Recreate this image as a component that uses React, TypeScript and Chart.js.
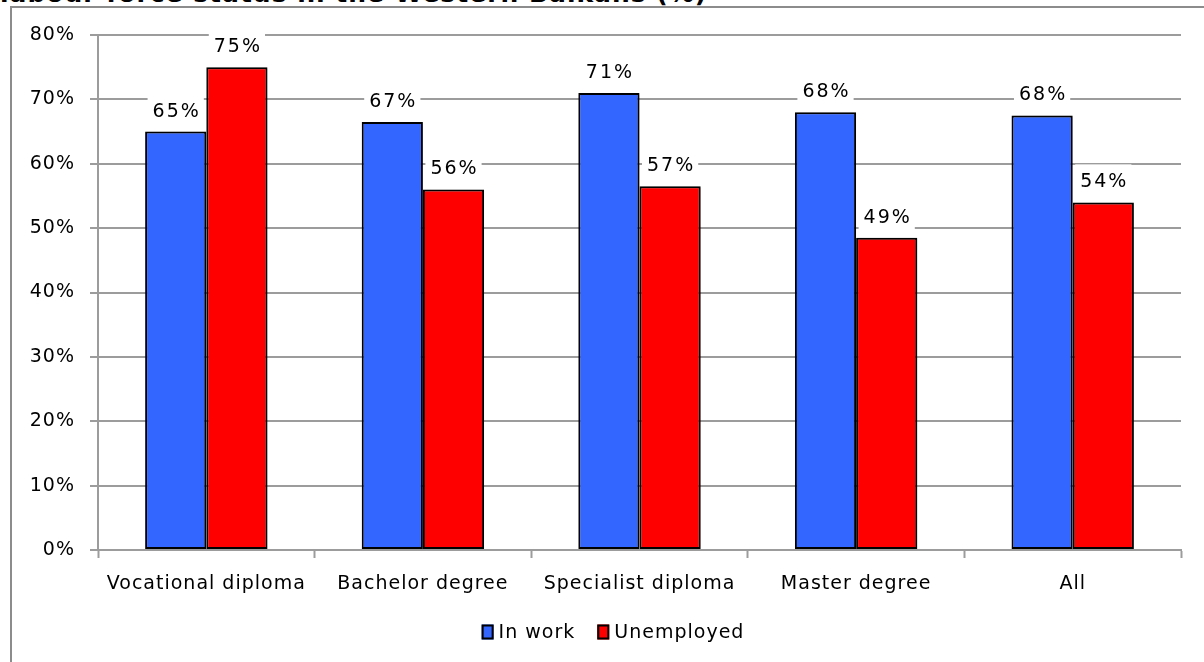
import React, { useEffect, useRef } from "react";
import { Chart, registerables } from "chart.js";

Chart.register(...registerables);

const titleText = "labour force status in the Western Balkans (%)";
const categories = ["Vocational diploma", "Bachelor degree", "Specialist diploma", "Master degree", "All"];
const seriesNames = ["In work", "Unemployed"];
const seriesColors = ["#3366FF", "#FF0000"];
const inWork = [65, 66.5, 71, 68, 67.5];
const unemployed = [75, 56, 56.5, 48.5, 54];
const yMin = 0;
const yMax = 80;
const yStep = 10;

const FONT = "'DejaVu Sans', Verdana, sans-serif";

const barExtrasPlugin = {
  id: "barExtras",
  beforeDraw(chart: any) {
    (chart.ctx as any).letterSpacing = "1px";
  },
  beforeDatasetsDraw(chart: any) {
    const ctx = chart.ctx;
    ctx.save();
    ctx.shadowColor = "rgba(0,0,0,0.28)";
    ctx.shadowBlur = 3;
    ctx.shadowOffsetX = 2;
    ctx.shadowOffsetY = 1;
  },
  afterDatasetsDraw(chart: any) {
    const ctx = chart.ctx;
    ctx.restore();
    ctx.save();
    ctx.font = `19px ${FONT}`;
    (ctx as any).letterSpacing = "2px";
    ctx.textAlign = "center";
    ctx.textBaseline = "middle";
    chart.data.datasets.forEach((ds: any, di: number) => {
      const meta = chart.getDatasetMeta(di);
      meta.data.forEach((bar: any, i: number) => {
        const v = ds.data[i] as number;
        const text = Math.round(v) + "%";
        const w = ctx.measureText(text).width;
        const cx = bar.x;
        const cy = bar.y - 20;
        ctx.fillStyle = "#ffffff";
        ctx.fillRect(cx - w / 2 - 4, cy - 18, w + 8, 36);
        ctx.fillStyle = "#000000";
        ctx.fillText(text, cx + 1, cy);
      });
    });
    ctx.restore();
  },
  afterDraw(chart: any) {
    const ctx = chart.ctx;
    ctx.save();
    ctx.font = `19px ${FONT}`;
    (ctx as any).letterSpacing = "1px";
    ctx.textBaseline = "middle";
    ctx.textAlign = "left";
    const boxW = 12;
    const boxH = 15;
    const gapText = 5;
    const gapItem = 22;
    const items = chart.data.datasets.map((ds: any) => ({
      label: ds.label as string,
      color: ds.backgroundColor as string,
      w: ctx.measureText(ds.label).width,
    }));
    let total = 0;
    items.forEach((it: any, i: number) => {
      total += boxW + gapText + it.w + (i > 0 ? gapItem : 0);
    });
    const centerX = 613;
    const cy = 632;
    let x = centerX - total / 2;
    items.forEach((it: any) => {
      ctx.fillStyle = it.color;
      ctx.fillRect(x, cy - boxH / 2, boxW, boxH);
      ctx.lineWidth = 2;
      ctx.strokeStyle = "#000";
      ctx.strokeRect(x + 1, cy - boxH / 2 + 1, boxW - 2, boxH - 2);
      ctx.fillStyle = "#000";
      ctx.fillText(it.label, x + boxW + gapText, cy + 1);
      x += boxW + gapText + it.w + gapItem;
    });
    ctx.restore();
  },
};

export default function App() {
  const canvasRef = useRef<HTMLCanvasElement | null>(null);

  useEffect(() => {
    if (!canvasRef.current) return;
    const gridColor = "#9c9c9c";
    const chart = new Chart(canvasRef.current, {
      type: "bar",
      data: {
        labels: categories,
        datasets: [
          {
            label: seriesNames[0],
            data: inWork,
            backgroundColor: seriesColors[0],
            borderColor: "#000000",
            borderWidth: 2,
            borderSkipped: false,
          },
          {
            label: seriesNames[1],
            data: unemployed,
            backgroundColor: seriesColors[1],
            borderColor: "#000000",
            borderWidth: 2,
            borderSkipped: false,
          },
        ],
      },
      options: {
        responsive: false,
        animation: false,
        devicePixelRatio: 1,
        layout: { padding: { left: 0, right: 23, top: 35, bottom: 0 } },
        datasets: {
          bar: { categoryPercentage: 0.565, barPercentage: 1.0 },
        },
        plugins: {
          legend: { display: false },
          tooltip: { enabled: false },
          title: { display: false },
        },
        scales: {
          x: {
            afterFit: (scale: any) => {
              scale.height = 662 - 550;
            },
            grid: {
              display: true,
              drawOnChartArea: false,
              drawTicks: true,
              tickLength: 8,
              tickWidth: 2,
              tickColor: gridColor,
              offset: true,
            },
            border: { display: true, color: gridColor, width: 2 },
            ticks: {
              color: "#000",
              font: { family: FONT, size: 19 },
              padding: 15,
              maxRotation: 0,
              autoSkip: false,
            },
          },
          y: {
            min: yMin,
            max: yMax,
            afterFit: (scale: any) => {
              scale.width = 98;
            },
            grid: {
              color: gridColor,
              lineWidth: 2,
              drawTicks: true,
              tickLength: 8,
              tickColor: gridColor,
            },
            border: { display: true, color: gridColor, width: 2 },
            ticks: {
              stepSize: yStep,
              color: "#000",
              font: { family: FONT, size: 19 },
              padding: 15,
              callback: (v: any) => `${v}%`,
            },
          },
        },
      },
      plugins: [barExtrasPlugin],
    });
    return () => chart.destroy();
  }, []);

  return (
    <div
      style={{
        position: "fixed",
        left: 0,
        top: 0,
        width: 1204,
        height: 662,
        overflow: "hidden",
        background: "#fff",
      }}
    >
      <div
        style={{
          position: "absolute",
          left: 0,
          top: -19,
          fontFamily: FONT,
          fontWeight: "bold",
          fontSize: 25,
          lineHeight: "25px",
          letterSpacing: "1px",
          whiteSpace: "nowrap",
          color: "#000",
        }}
      >
        {titleText}
      </div>
      <div
        style={{
          position: "absolute",
          left: 10,
          top: 6,
          width: 1300,
          height: 800,
          border: "2px solid #8c8c8c",
          boxSizing: "border-box",
        }}
      />
      <canvas
        ref={canvasRef}
        width={1204}
        height={662}
        style={{ position: "absolute", left: 0, top: 0, width: 1204, height: 662 }}
      />
    </div>
  );
}
